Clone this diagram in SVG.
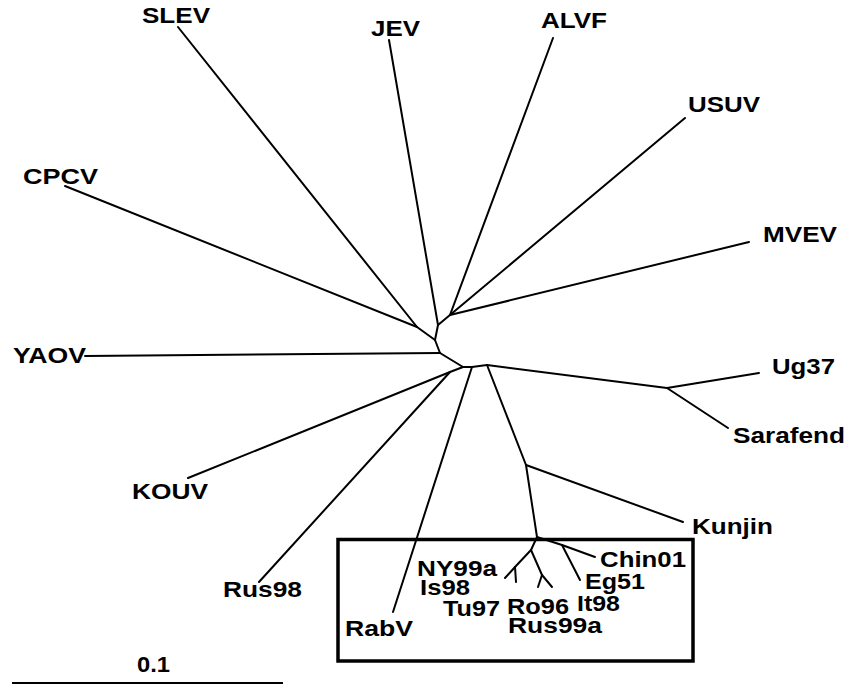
<svg xmlns="http://www.w3.org/2000/svg" width="851" height="688" viewBox="0 0 851 688">
<style>
.br{stroke:#000;stroke-width:2;fill:none;stroke-linecap:round;stroke-linejoin:round}
.lb{font-family:"Liberation Sans",Arial,sans-serif;font-weight:bold;font-size:22px;fill:#000}
</style>
<rect width="851" height="688" fill="#fff"/>
<g id="connectors">
<path class="br" d="M178,27 L417,327"/>
<path class="br" d="M65,186 L417,327"/>
<path class="br" d="M417,327 L435,340"/>
<path class="br" d="M389,40 L438,325"/>
<path class="br" d="M438,325 L435,340"/>
<path class="br" d="M553,38 L450,315"/>
<path class="br" d="M685,118 L450,315"/>
<path class="br" d="M749,242 L450,315"/>
<path class="br" d="M450,315 L438,325"/>
<path class="br" d="M435,340 L440,353"/>
<path class="br" d="M85,356 L440,353"/>
<path class="br" d="M440,353 L463,367"/>
<path class="br" d="M188,478 L450,372 L463,367"/>
<path class="br" d="M259,582 L450,372"/>
<path class="br" d="M463,367 L472,367"/>
<path class="br" d="M393,612 L472,367"/>
<path class="br" d="M472,367 L487,365"/>
<path class="br" d="M487,365 L667,388"/>
<path class="br" d="M667,388 L759,373"/>
<path class="br" d="M667,388 L728,428"/>
<path class="br" d="M487,365 L526,465"/>
<path class="br" d="M526,465 L683,522"/>
<path class="br" d="M526,465 L537,537"/>
<path class="br" d="M537,537 L531,550 L515,567"/>
<path class="br" d="M515,567 L505,578"/>
<path class="br" d="M515,567 L516,582"/>
<path class="br" d="M531,550 L542,575"/>
<path class="br" d="M542,575 L538,587"/>
<path class="br" d="M542,575 L552,587"/>
<path class="br" d="M537,537 L562,545 L595,557"/>
<path class="br" d="M562,545 L580,580"/>
</g>
<g id="box"><rect x="338" y="539.5" width="355" height="121.5" fill="none" stroke="#000" stroke-width="3.5"/></g>
<g id="SLEV"><text class="lb" x="142" y="23" textLength="68" lengthAdjust="spacingAndGlyphs">SLEV</text></g>
<g id="JEV"><text class="lb" x="371" y="36" textLength="49" lengthAdjust="spacingAndGlyphs">JEV</text></g>
<g id="ALVF"><text class="lb" x="541" y="28" textLength="66" lengthAdjust="spacingAndGlyphs">ALVF</text></g>
<g id="USUV"><text class="lb" x="688" y="112" textLength="72" lengthAdjust="spacingAndGlyphs">USUV</text></g>
<g id="MVEV"><text class="lb" x="763" y="242" textLength="74" lengthAdjust="spacingAndGlyphs">MVEV</text></g>
<g id="Ug37"><text class="lb" x="772" y="374" textLength="63" lengthAdjust="spacingAndGlyphs">Ug37</text></g>
<g id="Sarafend"><text class="lb" x="733" y="443" textLength="112" lengthAdjust="spacingAndGlyphs">Sarafend</text></g>
<g id="Kunjin"><text class="lb" x="692" y="534" textLength="81" lengthAdjust="spacingAndGlyphs">Kunjin</text></g>
<g id="CPCV"><text class="lb" x="23" y="184" textLength="75" lengthAdjust="spacingAndGlyphs">CPCV</text></g>
<g id="YAOV"><text class="lb" x="13" y="363" textLength="73" lengthAdjust="spacingAndGlyphs">YAOV</text></g>
<g id="KOUV"><text class="lb" x="132" y="499" textLength="76" lengthAdjust="spacingAndGlyphs">KOUV</text></g>
<g id="Rus98"><text class="lb" x="223" y="597" textLength="79" lengthAdjust="spacingAndGlyphs">Rus98</text></g>
<g id="RabV"><text class="lb" x="345" y="636" textLength="68" lengthAdjust="spacingAndGlyphs">RabV</text></g>
<g id="NY99a"><text class="lb" x="417" y="576" textLength="80" lengthAdjust="spacingAndGlyphs">NY99a</text></g>
<g id="Is98"><text class="lb" x="420" y="595" textLength="50" lengthAdjust="spacingAndGlyphs">Is98</text></g>
<g id="Tu97"><text class="lb" x="443" y="616" textLength="57" lengthAdjust="spacingAndGlyphs">Tu97</text></g>
<g id="Ro96"><text class="lb" x="507" y="614" textLength="62" lengthAdjust="spacingAndGlyphs">Ro96</text></g>
<g id="Rus99a"><text class="lb" x="508" y="633" textLength="94" lengthAdjust="spacingAndGlyphs">Rus99a</text></g>
<g id="It98"><text class="lb" x="577" y="611" textLength="43" lengthAdjust="spacingAndGlyphs">It98</text></g>
<g id="Eg51"><text class="lb" x="585" y="589" textLength="60" lengthAdjust="spacingAndGlyphs">Eg51</text></g>
<g id="Chin01"><text class="lb" x="600" y="567" textLength="86" lengthAdjust="spacingAndGlyphs">Chin01</text></g>
<g id="scale">
<text class="lb" x="137" y="672" textLength="33" lengthAdjust="spacingAndGlyphs">0.1</text>
<line x1="12" y1="683" x2="283" y2="683" stroke="#000" stroke-width="2"/>
</g>
</svg>
